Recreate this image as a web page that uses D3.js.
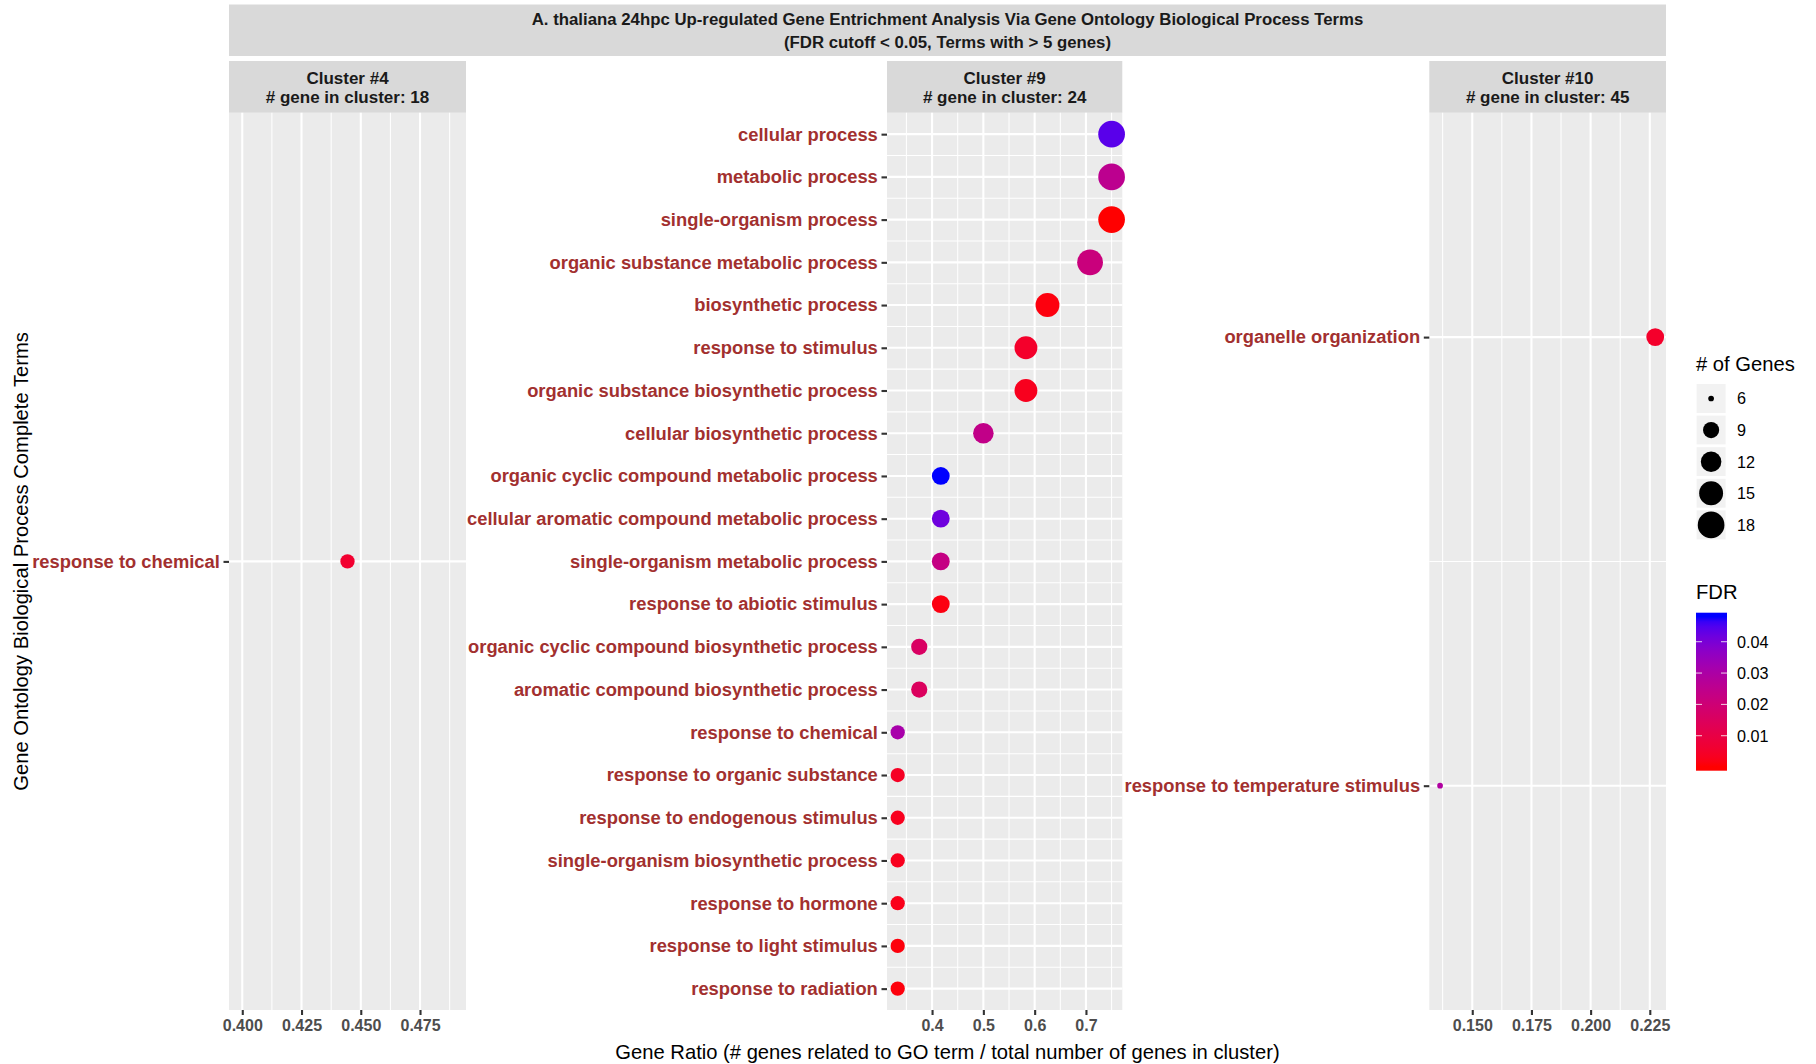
<!DOCTYPE html>
<html><head><meta charset="utf-8">
<script src="https://cdn.jsdelivr.net/npm/d3@7"></script>
<style>
body{margin:0;background:#fff}
svg{display:block}
text{font-family:"Liberation Sans",Arial,Helvetica,sans-serif}
</style>
</head><body>
<svg id="chart" width="1816" height="1064"></svg>
<script>
// ---------------- DATA ----------------
const titleLines = ["A. thaliana 24hpc Up-regulated Gene Entrichment Analysis Via Gene Ontology Biological Process Terms",
                    "(FDR cutoff < 0.05, Terms with > 5 genes)"];
const clusterNames = ["Cluster #4", "Cluster #9", "Cluster #10"];
const clusterSizes = [18, 24, 45];

const c4Terms = ["response to chemical"];
const c4Ratio = [0.4444];
const c4Genes = [8];
const c4FDR   = [0.006];

const c9Terms = ["cellular process","metabolic process","single-organism process","organic substance metabolic process",
  "biosynthetic process","response to stimulus","organic substance biosynthetic process","cellular biosynthetic process",
  "organic cyclic compound metabolic process","cellular aromatic compound metabolic process","single-organism metabolic process",
  "response to abiotic stimulus","organic cyclic compound biosynthetic process","aromatic compound biosynthetic process",
  "response to chemical","response to organic substance","response to endogenous stimulus","single-organism biosynthetic process",
  "response to hormone","response to light stimulus","response to radiation"];
const c9Ratio = [0.750,0.750,0.750,0.708,0.625,0.583,0.583,0.500,0.417,0.417,0.417,0.417,0.375,0.375,0.333,0.333,0.333,0.333,0.333,0.333,0.333];
const c9Genes = [18,18,18,17,15,14,14,12,10,10,10,10,9,9,8,8,8,8,8,8,8];
const c9FDR   = [0.044,0.0255,0.0001,0.0215,0.0012,0.005,0.003,0.024,0.048,0.0415,0.023,0.0015,0.016,0.015,0.031,0.004,0.003,0.003,0.0025,0.001,0.001];

const c10Terms = ["organelle organization","response to temperature stimulus"];
const c10Ratio = [0.2273, 0.1364];
const c10Genes = [10, 6];
const c10FDR   = [0.005, 0.029];

const xTicks4  = [0.400, 0.425, 0.450, 0.475];
const xTicks9  = [0.4, 0.5, 0.6, 0.7];
const xTicks10 = [0.150, 0.175, 0.200, 0.225];
const xTickFormats = [".3f", ".1f", ".3f"];

const sizeLegendValues = [6, 9, 12, 15, 18];
const fdrLegendTicks = [0.01, 0.02, 0.03, 0.04];

const xTitle = "Gene Ratio (# genes related to GO term / total number of genes in cluster)";
const yTitle = "Gene Ontology Biological Process Complete Terms";

// ---------------- LAYOUT ----------------
const svg = d3.select("#chart");
const FONT = '"Liberation Sans",Arial,Helvetica,sans-serif';
const panelTop = 112.8, panelBottom = 1010;
const panelX = [[229, 466], [887, 1122.3], [1429.3, 1666]];
const labelColor = "#a2302f";

const panels = [
  {terms: c4Terms, ratio: c4Ratio, genes: c4Genes, fdr: c4FDR, ticks: xTicks4},
  {terms: c9Terms, ratio: c9Ratio, genes: c9Genes, fdr: c9FDR, ticks: xTicks9},
  {terms: c10Terms, ratio: c10Ratio, genes: c10Genes, fdr: c10FDR, ticks: xTicks10}
];

const allGenes = [].concat(c4Genes, c9Genes, c10Genes);
const allFDR = [].concat(c4FDR, c9FDR, c10FDR);

// size scale (ggplot area palette, range 1..6)
const sizeNorm = d3.scaleLinear().domain(d3.extent(allGenes)).range([0, 1]);
const sizeUnits = d3.scaleLinear().domain([0, 1]).range([1, 6]);
const radius = v => (4.2 * sizeUnits(Math.sqrt(sizeNorm(v))) + 1.5) / 2;

// color scale (red -> blue in Lab)
const fdrExtent = d3.extent(allFDR);
const color = d3.scaleLinear().domain(fdrExtent).range(["red", "blue"]).interpolate(d3.interpolateLab);

// ---------------- TITLE STRIP ----------------
svg.append("rect").attr("x", 229).attr("y", 4.5).attr("width", 1437).attr("height", 51.5).attr("fill", "#d9d9d9");
svg.selectAll("text.title").data(titleLines).enter().append("text")
  .attr("x", 947.5).attr("y", (d, i) => 24.5 + i * 23.3)
  .attr("text-anchor", "middle").attr("font-weight", "bold").attr("font-size", 16.8).attr("fill", "#1a1a1a")
  .text(d => d);

// ---------------- PANELS ----------------
panels.forEach((p, i) => {
  const [x0, x1] = panelX[i];
  const ext = d3.extent(p.ratio);
  let dom;
  if (ext[0] === ext[1]) dom = [ext[0] - 0.05, ext[1] + 0.05];
  else { const r = ext[1] - ext[0]; dom = [ext[0] - 0.05 * r, ext[1] + 0.05 * r]; }
  const x = d3.scaleLinear().domain(dom).range([x0, x1]);
  const y = d3.scalePoint().domain(p.terms).range([panelTop, panelBottom]).padding(0.5);

  const g = svg.append("g");
  // strip
  g.append("rect").attr("x", x0).attr("y", 61).attr("width", x1 - x0).attr("height", panelTop - 61).attr("fill", "#d9d9d9");
  const cx = (x0 + x1) / 2;
  g.append("text").attr("x", cx).attr("y", 83.5).attr("text-anchor", "middle").attr("font-weight", "bold")
    .attr("font-size", 17).attr("fill", "#1a1a1a").text(clusterNames[i]);
  g.append("text").attr("x", cx).attr("y", 102.8).attr("text-anchor", "middle").attr("font-weight", "bold")
    .attr("font-size", 17).attr("fill", "#1a1a1a").text("# gene in cluster: " + clusterSizes[i]);

  // panel background
  g.append("rect").attr("x", x0).attr("y", panelTop).attr("width", x1 - x0).attr("height", panelBottom - panelTop).attr("fill", "#ebebeb");

  // minor vertical gridlines
  const step = p.ticks[1] - p.ticks[0];
  const minorX = [];
  for (let k = -1; k < p.ticks.length; k++) {
    const v = p.ticks[0] + (k + 0.5) * step;
    if (v > dom[0] && v < dom[1]) minorX.push(v);
  }
  g.selectAll("line.minorx").data(minorX).enter().append("line")
    .attr("x1", d => x(d)).attr("x2", d => x(d)).attr("y1", panelTop).attr("y2", panelBottom)
    .attr("stroke", "#fff").attr("stroke-width", 1.05);
  // minor horizontal gridlines (between categories)
  const minorY = [];
  for (let k = 0; k < p.terms.length - 1; k++) minorY.push((y(p.terms[k]) + y(p.terms[k + 1])) / 2);
  g.selectAll("line.minory").data(minorY).enter().append("line")
    .attr("x1", x0).attr("x2", x1).attr("y1", d => d).attr("y2", d => d)
    .attr("stroke", "#fff").attr("stroke-width", 1.05);
  // major gridlines
  g.selectAll("line.majorx").data(p.ticks).enter().append("line")
    .attr("x1", d => x(d)).attr("x2", d => x(d)).attr("y1", panelTop).attr("y2", panelBottom)
    .attr("stroke", "#fff").attr("stroke-width", 2.1);
  g.selectAll("line.majory").data(p.terms).enter().append("line")
    .attr("x1", x0).attr("x2", x1).attr("y1", d => y(d)).attr("y2", d => y(d))
    .attr("stroke", "#fff").attr("stroke-width", 2.1);

  // points
  g.selectAll("circle.pt").data(p.terms.map((t, k) => ({t, r: p.ratio[k], n: p.genes[k], f: p.fdr[k]})))
    .enter().append("circle")
    .attr("cx", d => x(d.r)).attr("cy", d => y(d.t)).attr("r", d => radius(d.n))
    .attr("fill", d => color(d.f));

  // x axis
  const xa = svg.append("g").attr("transform", `translate(0,${panelBottom})`)
    .call(d3.axisBottom(x).tickValues(p.ticks).tickFormat(d3.format(xTickFormats[i])).tickSize(5).tickPadding(5));
  xa.select(".domain").remove();
  xa.selectAll(".tick line").attr("stroke", "#333").attr("stroke-width", 2.1);
  xa.selectAll(".tick text").attr("font-family", FONT).attr("font-size", 16).attr("font-weight", "bold").attr("fill", "#4d4d4d");

  // y axis
  const ya = svg.append("g").attr("transform", `translate(${x0},0)`)
    .call(d3.axisLeft(y).tickSize(5.5).tickPadding(3.7));
  ya.select(".domain").remove();
  ya.selectAll(".tick line").attr("stroke", "#333").attr("stroke-width", 2.1);
  ya.selectAll(".tick text").attr("font-family", FONT).attr("font-size", 18.35).attr("font-weight", "bold").attr("fill", labelColor);
});

// ---------------- AXIS TITLES ----------------
svg.append("text").attr("x", 947.5).attr("y", 1059).attr("text-anchor", "middle")
  .attr("font-size", 20.2).attr("fill", "#000").text(xTitle);
svg.append("text").attr("transform", `translate(27.5,${(panelTop + panelBottom) / 2}) rotate(-90)`)
  .attr("text-anchor", "middle").attr("font-size", 20.2).attr("fill", "#000").text(yTitle);

// ---------------- SIZE LEGEND ----------------
const lx = 1695.3, ly = 382.7, keyStep = 31.6;
svg.append("text").attr("x", 1696).attr("y", 371).attr("font-size", 20.2).attr("fill", "#000").text("# of Genes");
const sl = svg.append("g");
sl.selectAll("rect").data(sizeLegendValues).enter().append("rect")
  .attr("x", lx).attr("y", (d, i) => ly + i * keyStep).attr("width", keyStep).attr("height", keyStep)
  .attr("fill", "#f2f2f2").attr("stroke", "#fff").attr("stroke-width", 2.6);
sl.selectAll("circle").data(sizeLegendValues).enter().append("circle")
  .attr("cx", lx + keyStep / 2).attr("cy", (d, i) => ly + i * keyStep + keyStep / 2).attr("r", d => radius(d))
  .attr("fill", "#000");
sl.selectAll("text").data(sizeLegendValues).enter().append("text")
  .attr("x", 1737).attr("y", (d, i) => ly + i * keyStep + keyStep / 2 + 5.8)
  .attr("font-size", 16.2).attr("fill", "#000").text(d => d);

// ---------------- COLOR BAR ----------------
svg.append("text").attr("x", 1696).attr("y", 599).attr("font-size", 20.2).attr("fill", "#000").text("FDR");
const barX = 1696, barW = 31, barTop = 612.7, barBot = 770.7, nbin = 20;
const half = (barBot - barTop) / nbin / 2;
const yBar = d3.scaleLinear().domain(fdrExtent).range([barBot - half, barTop + half]);
const defs = svg.append("defs");
const grad = defs.append("linearGradient").attr("id", "fdrgrad").attr("x1", 0).attr("y1", 1).attr("x2", 0).attr("y2", 0);
const nStops = 30;
const stopVals = d3.range(nStops + 1).map(k => fdrExtent[0] + (fdrExtent[1] - fdrExtent[0]) * k / nStops);
grad.append("stop").attr("offset", 0).attr("stop-color", color(fdrExtent[0]));
grad.selectAll("stop.s").data(stopVals).enter().append("stop")
  .attr("offset", d => (barBot - yBar(d)) / (barBot - barTop)).attr("stop-color", d => color(d));
grad.append("stop").attr("offset", 1).attr("stop-color", color(fdrExtent[1]));
svg.append("rect").attr("x", barX).attr("y", barTop).attr("width", barW).attr("height", barBot - barTop).attr("fill", "url(#fdrgrad)");
const cb = svg.append("g");
fdrLegendTicks.forEach(t => {
  const yy = yBar(t);
  cb.append("line").attr("x1", barX).attr("x2", barX + 6).attr("y1", yy).attr("y2", yy).attr("stroke", "#fff").attr("stroke-width", 1).attr("stroke-opacity", 0.8);
  cb.append("line").attr("x1", barX + barW - 6).attr("x2", barX + barW).attr("y1", yy).attr("y2", yy).attr("stroke", "#fff").attr("stroke-width", 1).attr("stroke-opacity", 0.8);
  cb.append("text").attr("x", 1737).attr("y", yy + 5.8).attr("font-size", 16.2).attr("fill", "#000").text(d3.format(".2f")(t));
});
</script>
</body></html>
